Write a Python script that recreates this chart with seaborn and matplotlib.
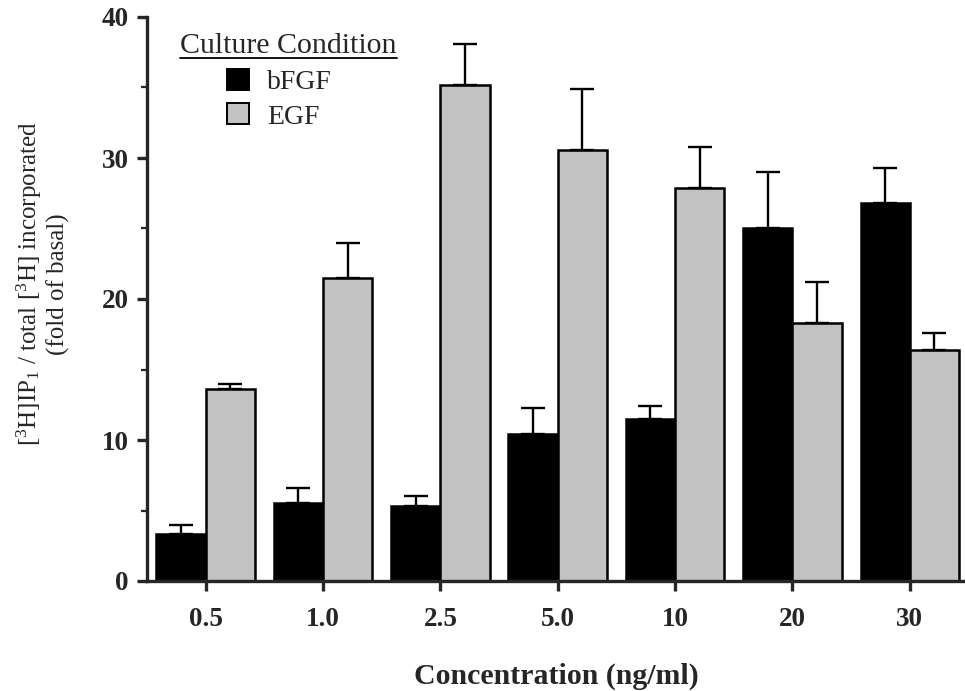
import numpy as np
import pandas as pd
import matplotlib
matplotlib.use("Agg")
import matplotlib.pyplot as plt
import seaborn as sns
from matplotlib.patches import Patch
from matplotlib.lines import Line2D
from matplotlib.ticker import MultipleLocator

# ---- data ----
concentrations = ["0.5", "1.0", "2.5", "5.0", "10", "20", "30"]
conditions = ["bFGF", "EGF"]
bfgf_mean = [3.3, 5.5, 5.35, 10.4, 11.5, 25.0, 26.8]
bfgf_err = [0.7, 1.1, 0.7, 1.85, 0.9, 4.0, 2.5]
egf_mean = [13.6, 21.5, 35.2, 30.6, 27.85, 18.3, 16.4]
egf_err = [0.35, 2.5, 2.9, 4.3, 2.95, 2.9, 1.2]
y_ticks = [0, 10, 20, 30, 40]

df = pd.DataFrame({
    "conc": concentrations * 2,
    "cond": ["bFGF"] * len(concentrations) + ["EGF"] * len(concentrations),
    "value": bfgf_mean + egf_mean,
})
errs = {"bFGF": bfgf_err, "EGF": egf_err}

sns.set_style("ticks")
plt.rcParams["font.family"] = ["Liberation Serif", "DejaVu Serif"]
plt.rcParams["mathtext.fontset"] = "custom"
plt.rcParams["mathtext.rm"] = "Liberation Serif"
plt.rcParams["mathtext.it"] = "Liberation Serif:italic"
plt.rcParams["mathtext.bf"] = "Liberation Serif:bold"

W, H = 965, 691
fig = plt.figure(figsize=(W / 100, H / 100), dpi=100)
ax = fig.add_axes([147 / W, 1 - 581 / H, 1 - 147 / W, (581 - 17) / H])

palette = {"bFGF": "#000000", "EGF": "#c2c2c2"}
sns.barplot(data=df, x="conc", y="value", hue="cond", order=concentrations,
            hue_order=conditions, palette=palette, width=0.84, errorbar=None,
            edgecolor="black", linewidth=1.8, legend=False, ax=ax,
            saturation=1)

for cont, cond in zip(ax.containers, conditions):
    for bar, e in zip(cont.patches, errs[cond]):
        xc = bar.get_x() + bar.get_width() / 2
        h = bar.get_height()
        ax.errorbar(xc, h, yerr=[[0], [e]], fmt="none", ecolor="black",
                    elinewidth=1.7, capsize=8.5, capthick=1.7, zorder=1)

ax.set_xlim(-0.5, 6.47)
ax.set_ylim(0, 40)
ax.set_yticks(y_ticks)
ax.yaxis.set_minor_locator(MultipleLocator(5))
ax.set_xlabel("")
ax.set_ylabel("")
for s in ["top", "right"]:
    ax.spines[s].set_visible(False)
for s in ["left", "bottom"]:
    ax.spines[s].set_linewidth(2.4)
ax.tick_params(axis="both", which="major", length=7, width=2.4,
               direction="out", labelsize=19.5)
ax.tick_params(axis="x", pad=12)
ax.tick_params(axis="y", pad=6)
ax.tick_params(axis="y", which="minor", length=4, width=1.6, direction="out")
for lab in ax.get_xticklabels() + ax.get_yticklabels():
    lab.set_fontweight("bold")

# axis labels
fig.text(556 / W, 1 - 676 / H, "Concentration (ng/ml)", ha="center",
         va="center", fontsize=21.5, fontweight="bold")
fig.text(42 / W, 1 - 284 / H,
         "[$^{3}$H]IP$_{1}$ / total [$^{3}$H] incorporated\n(fold of basal)",
         rotation=90, ha="center", va="center", multialignment="center",
         fontsize=18, linespacing=1.15)

# legend
handles = [Patch(facecolor=palette[c], edgecolor="black", linewidth=1.4, label=c)
           for c in conditions]
leg = fig.legend(handles=handles, loc="upper left",
                 bbox_to_anchor=(227 / W, 1 - 69 / H), frameon=False,
                 fontsize=20, handlelength=0.78, handleheight=0.78,
                 handletextpad=0.65, labelspacing=0.3, borderpad=0,
                 borderaxespad=0)
title = fig.text(180 / W, 1 - 46 / H, "Culture Condition", ha="left",
                 va="center", fontsize=21.5)
fig.canvas.draw()
bb = title.get_window_extent()
y_line = (bb.y0 + 1) / H
fig.add_artist(Line2D([bb.x0 / W, bb.x1 / W], [y_line, y_line],
                      transform=fig.transFigure, color="black", linewidth=1.3))

fig.savefig("out.png", dpi=100)
